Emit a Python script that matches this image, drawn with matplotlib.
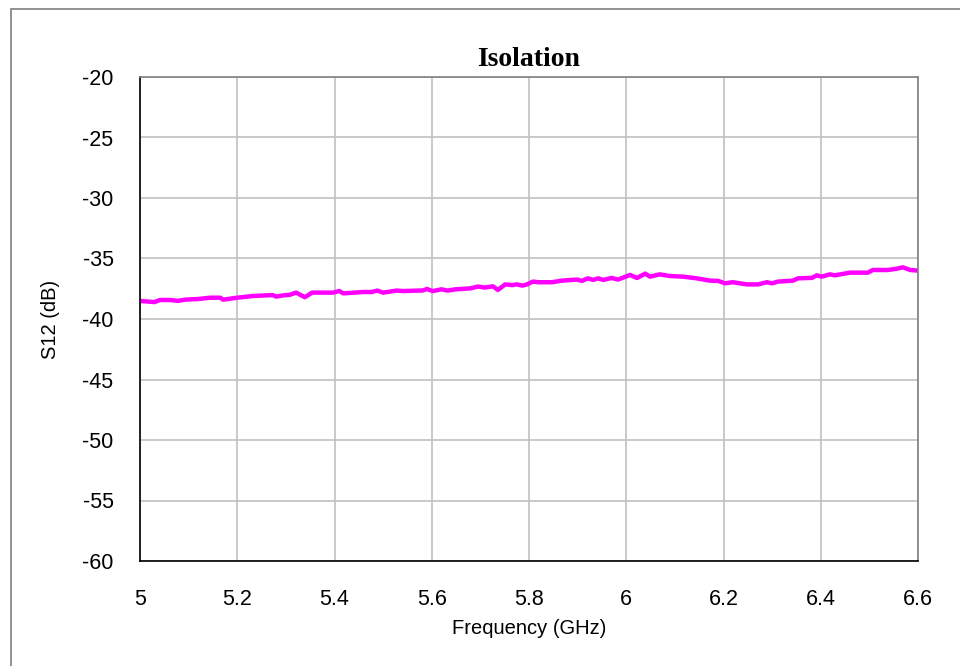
import matplotlib.pyplot as plt
from matplotlib.patches import Rectangle
import numpy as np

# frequency (GHz) and S12 (dB)
freq = [5.0, 5.03, 5.041, 5.062, 5.078, 5.093, 5.119, 5.144, 5.165, 5.171, 5.2,
        5.232, 5.273, 5.28, 5.294, 5.308, 5.321, 5.339, 5.354, 5.397, 5.41, 5.418,
        5.459, 5.477, 5.488, 5.5, 5.528, 5.541, 5.582, 5.59, 5.602, 5.62, 5.633,
        5.648, 5.679, 5.695, 5.709, 5.726, 5.736, 5.751, 5.765, 5.775, 5.786,
        5.796, 5.808, 5.819, 5.847, 5.868, 5.899, 5.909, 5.921, 5.932, 5.942,
        5.953, 5.97, 5.983, 6.008, 6.022, 6.039, 6.049, 6.069, 6.09, 6.117,
        6.145, 6.172, 6.189, 6.203, 6.219, 6.248, 6.271, 6.289, 6.3, 6.312,
        6.343, 6.353, 6.382, 6.392, 6.402, 6.419, 6.429, 6.46, 6.497, 6.507,
        6.538, 6.557, 6.569, 6.584, 6.6]
s12 = [-38.51, -38.6, -38.43, -38.43, -38.5, -38.4, -38.35, -38.24, -38.24, -38.4,
       -38.24, -38.1, -38.02, -38.15, -38.05, -38.0, -37.82, -38.2, -37.82, -37.82,
       -37.69, -37.88, -37.77, -37.77, -37.65, -37.82, -37.65, -37.69, -37.64,
       -37.52, -37.69, -37.55, -37.65, -37.55, -37.47, -37.32, -37.4, -37.3, -37.6,
       -37.14, -37.2, -37.14, -37.24, -37.14, -36.91, -36.96, -36.96, -36.83,
       -36.74, -36.85, -36.64, -36.77, -36.64, -36.77, -36.61, -36.74, -36.36,
       -36.61, -36.25, -36.5, -36.31, -36.45, -36.5, -36.64, -36.83, -36.85,
       -37.05, -36.96, -37.14, -37.14, -36.96, -37.05, -36.91, -36.83, -36.64,
       -36.6, -36.39, -36.5, -36.31, -36.39, -36.17, -36.17, -35.95, -35.95,
       -35.84, -35.73, -35.95, -36.0]

xticks = [5, 5.2, 5.4, 5.6, 5.8, 6, 6.2, 6.4, 6.6]
xticklabels = ['5', '5.2', '5.4', '5.6', '5.8', '6', '6.2', '6.4', '6.6']
yticks = list(range(-60, -15, 5))

plt.rcParams['font.family'] = ['Liberation Sans', 'DejaVu Sans']
plt.rcParams['axes.unicode_minus'] = False

fig = plt.figure(figsize=(9.6, 6.66), dpi=100)
ax = fig.add_axes([140/960, 1-561/666, 778/960, 484/666])

# outer chart frame
fig.patches.append(Rectangle((11/960, -0.1), 1.2, 1 - 9/666 + 0.1,
                             transform=fig.transFigure, fill=False,
                             edgecolor='#7f7f7f', linewidth=1.2))

ax.plot(freq, s12, color='#ff00ff', linewidth=3.2, solid_joinstyle='round')

ax.set_xlim(5, 6.6)
ax.set_ylim(-60, -20)
ax.set_xticks(xticks)
ax.set_xticklabels(xticklabels)
ax.set_yticks(yticks)
ax.tick_params(length=0, labelsize=15.5)
ax.tick_params(axis='x', pad=20)
ax.tick_params(axis='y', pad=19)
ax.grid(color='#c0c0c0', linewidth=1.2)
ax.set_axisbelow(True)

ax.spines['left'].set_color('black')
ax.spines['bottom'].set_color('black')
ax.spines['top'].set_color('#808080')
ax.spines['right'].set_color('#808080')
for s in ax.spines.values():
    s.set_linewidth(1.2)

ax.set_xlabel('Frequency (GHz)', fontsize=14.5, labelpad=7)
ax.set_ylabel('S12 (dB)', fontsize=14.5, labelpad=16)
ax.set_title('Isolation', fontsize=20, fontweight='bold',
             family='Liberation Serif', pad=8)

fig.savefig('out.png', dpi=100)
